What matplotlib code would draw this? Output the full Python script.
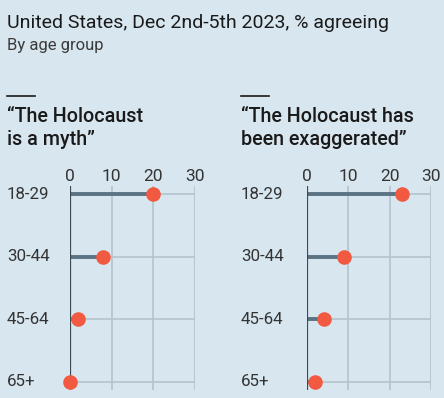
import matplotlib
matplotlib.use("Agg")
import matplotlib.pyplot as plt

categories = ["18-29", "30-44", "45-64", "65+"]
myth = [20, 8, 2, 0]
exaggerated = [23, 9, 4, 2]
xticks = [0, 10, 20, 30]
panel_titles = [["\u201cThe Holocaust", "is a myth\u201d"], ["\u201cThe Holocaust has", "been exaggerated\u201d"]]
subtitle = "United States, Dec 2nd-5th 2023, % agreeing"
subsub = "By age group"

BG = "#d7e6ef"
plt.rcParams['font.family'] = ['Roboto', 'DejaVu Sans']

W, H = 444, 398
fig = plt.figure(figsize=(W / 100, H / 100), dpi=100, facecolor=BG)

def fx(px):
    return px / W

def fy(py):
    return 1 - py / H

fig.text(fx(7), fy(28), subtitle, fontsize=14, color="#1a1a1a", va="baseline", ha="left")
fig.text(fx(7), fy(50), subsub, fontsize=12, color="#3b3b3b", va="baseline", ha="left")

panels = [
    dict(vals=myth, ax_left=70, ax_w=125, title_x=7, label_x=7),
    dict(vals=exaggerated, ax_left=307, ax_w=124, title_x=241, label_x=241),
]

top_px, bot_px = 186, 390
for p, title in zip(panels, panel_titles):
    fig.add_artist(plt.Line2D([fx(p["title_x"]), fx(p["title_x"] + 28)], [fy(96), fy(96)],
                              color="#1a1a1a", lw=1.2, transform=fig.transFigure))
    for line, base in zip(title, [122, 145]):
        fig.text(fx(p["title_x"]), fy(base), line, fontsize=14.2, fontweight="medium",
                 color="#1a1a1a", va="baseline", ha="left")
    ax = fig.add_axes([fx(p["ax_left"]), fy(bot_px), fx(p["ax_w"]), (bot_px - top_px) / H])
    ax.set_facecolor("none")
    n = len(categories)
    ax.set_xlim(0, 30)
    ax.set_ylim(n - 1 + 0.13, -0.13)
    for s in ax.spines.values():
        s.set_visible(False)
    ax.set_yticks([])
    ax.set_xticks(xticks)
    ax.xaxis.tick_top()
    ax.tick_params(axis="x", length=0, labelsize=12.5, labelcolor="#333333", pad=1.5)
    for t in xticks[1:]:
        ax.axvline(t, color="#b4c4ce", lw=1.2, zorder=1)
    for i, v in enumerate(p["vals"]):
        ax.plot([0, 30], [i, i], color="#b4c4ce", lw=1.2, zorder=1, solid_capstyle="butt")
        ax.plot([0, v], [i, i], color="#5a7282", lw=2.8, zorder=2, solid_capstyle="butt")
        ax.plot([v], [i], "o", color="#f15a40", ms=10.5, mec="none", zorder=4, clip_on=False)
    ax.axvline(0, color="#3c4a55", lw=1.6, zorder=3)
    for i, c in enumerate(categories):
        fig.text(fx(p["label_x"]), ax.transData.transform((0, i))[1] / H, c,
                 fontsize=12.2, color="#333333", va="center", ha="left")

fig.savefig("out.png", dpi=100, facecolor=BG)
